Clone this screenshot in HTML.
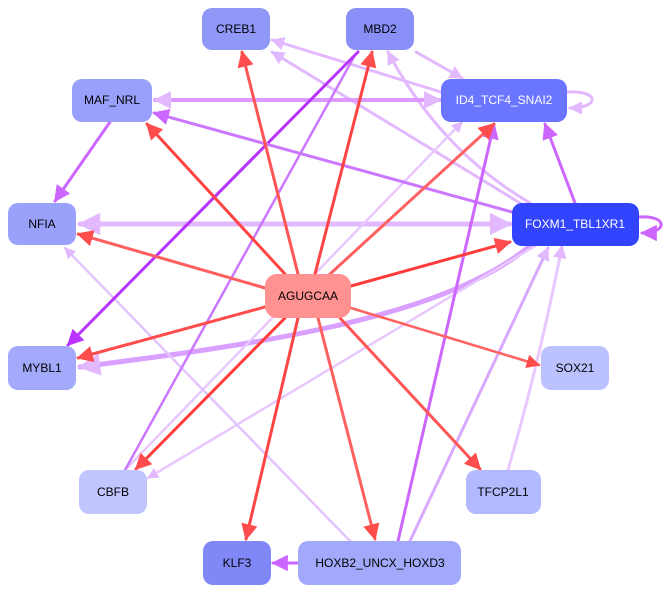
<!DOCTYPE html>
<html><head><meta charset="utf-8"><style>
body{margin:0;background:#fff;width:670px;height:593px;overflow:hidden}
text{font-family:"Liberation Sans",sans-serif;font-size:12px;text-anchor:middle;dominant-baseline:central}
</style></head><body>
<svg width="670" height="593" viewBox="0 0 670 593" xmlns="http://www.w3.org/2000/svg">
<defs>
<marker id="r" viewBox="0 0 10 10" refX="9" refY="5" markerWidth="5.5" markerHeight="5.5" orient="auto-start-reverse"><path d="M0,0L10,5L0,10z" fill="#ff4c4c"/></marker>
<marker id="p" viewBox="0 0 10 10" refX="9" refY="5" markerWidth="5.5" markerHeight="5.5" orient="auto-start-reverse"><path d="M0,0L10,5L0,10z" fill="#cc66ff"/></marker>
<marker id="d" viewBox="0 0 10 10" refX="9" refY="5" markerWidth="5.5" markerHeight="5.5" orient="auto-start-reverse"><path d="M0,0L10,5L0,10z" fill="#b833ff"/></marker>
<marker id="l" viewBox="0 0 10 10" refX="9" refY="5" markerWidth="4.5" markerHeight="4.5" orient="auto-start-reverse"><path d="M0,0L10,5L0,10z" fill="#e2b8ff"/></marker>
</defs>
<g fill="none" stroke-linecap="round">
<path d="M441,92 L272,40" stroke="#e2b8ff" stroke-width="3" marker-end="url(#l)"/>
<path d="M416,52 L462,78" stroke="#e2b8ff" stroke-width="3" marker-end="url(#l)"/>
<path d="M520,203 L272,52" stroke="#e2b8ff" stroke-width="3" marker-end="url(#l)"/>
<path d="M530,203 Q440,150 388,52" stroke="#e2b8ff" stroke-width="3" marker-end="url(#l)"/>
<path d="M80,224 L510,224" stroke="#e2b8ff" stroke-width="5" marker-end="url(#l)" marker-start="url(#l)"/>
<path d="M155,100 L440,100" stroke="#dd99ff" stroke-width="4" marker-end="url(#l)" marker-start="url(#l)"/>
<path d="M530,246 C440,320 250,345 80,367" stroke="#d9a0ff" stroke-width="5" marker-end="url(#l)"/>
<path d="M125,470 L462,122" stroke="#e8c8ff" stroke-width="2.5" marker-end="url(#l)"/>
<path d="M535,246 L148,478" stroke="#e8c8ff" stroke-width="2.5" marker-end="url(#l)"/>
<path d="M508,470 Q540,360 562,246" stroke="#e8c8ff" stroke-width="3" marker-end="url(#l)"/>
<path d="M350,541 L65,248" stroke="#e2c4ff" stroke-width="2.5" marker-end="url(#l)"/>
<path d="M410,541 L548,248" stroke="#d9a8ff" stroke-width="3" marker-end="url(#l)"/>
<path d="M355,55 L125,470" stroke="#cc77ff" stroke-width="2.5"/>
<path d="M567,92 C600,90 600,108 570,108" stroke="#e2b8ff" stroke-width="3" marker-end="url(#l)"/>
<path d="M358,52 L68,345" stroke="#b833ff" stroke-width="3" marker-end="url(#d)"/>
<path d="M575,203 L545,124" stroke="#cc66ff" stroke-width="3" marker-end="url(#p)"/>
<path d="M512,212 L154,113" stroke="#cc77ff" stroke-width="3" marker-end="url(#p)"/>
<path d="M110,122 L55,201" stroke="#cc66ff" stroke-width="3" marker-end="url(#p)"/>
<path d="M398,541 L494,124" stroke="#cc66ff" stroke-width="3" marker-end="url(#p)"/>
<path d="M298,563 L273,563" stroke="#cc66ff" stroke-width="3" marker-end="url(#p)"/>
<path d="M639,217 C668,215 668,233 642,233" stroke="#cc66ff" stroke-width="3" marker-end="url(#p)"/>
<g stroke-width="3">
<path d="M298,274 L242,52" stroke="#ff5555" marker-end="url(#r)"/>
<path d="M315,274 L372,52" stroke="#ff4444" marker-end="url(#r)"/>
<path d="M285,274 L147,124" stroke="#ff4444" marker-end="url(#r)"/>
<path d="M330,274 L494,124" stroke="#ff6060" marker-end="url(#r)"/>
<path d="M351,286 L510,242" stroke="#ff3b3b" marker-end="url(#r)"/>
<path d="M265,288 L78,234" stroke="#ff5f5f" marker-end="url(#r)"/>
<path d="M265,307 L78,358" stroke="#ff4c4c" marker-end="url(#r)"/>
<path d="M351,308 L539,365" stroke="#ff6060" stroke-width="2.5" marker-end="url(#r)"/>
<path d="M285,318 L136,469" stroke="#ff3b3b" marker-end="url(#r)"/>
<path d="M340,318 L480,469" stroke="#ff5555" marker-end="url(#r)"/>
<path d="M298,318 L246,539" stroke="#ff4444" marker-end="url(#r)"/>
<path d="M318,318 L375,539" stroke="#ff6060" marker-end="url(#r)"/>
</g>
</g>
<g>
<rect x="202" y="8" width="68" height="42" rx="10" fill="#8f97f7"/><text x="236" y="29">CREB1</text>
<rect x="346" y="8" width="68" height="42" rx="10" fill="#8890f7"/><text x="380" y="29">MBD2</text>
<rect x="72" y="79" width="80" height="43" rx="10" fill="#98a0fb"/><text x="112" y="100">MAF_NRL</text>
<rect x="441" y="79" width="126" height="43" rx="10" fill="#6a76ff"/><text x="504" y="100" fill="#fff">ID4_TCF4_SNAI2</text>
<rect x="8" y="203" width="68" height="42" rx="10" fill="#99a1fb"/><text x="42" y="224">NFIA</text>
<rect x="512" y="203" width="127" height="43" rx="10" fill="#3344ff"/><text x="575" y="224" fill="#fff">FOXM1_TBL1XR1</text>
<rect x="265" y="274" width="86" height="44" rx="12" fill="#ff9191"/><text x="308" y="296">AGUGCAA</text>
<rect x="8" y="346" width="68" height="44" rx="10" fill="#a3aafb"/><text x="42" y="368">MYBL1</text>
<rect x="541" y="346" width="68" height="44" rx="10" fill="#bcc1ff"/><text x="575" y="368">SOX21</text>
<rect x="79" y="470" width="68" height="44" rx="10" fill="#c1c5ff"/><text x="113" y="492">CBFB</text>
<rect x="466" y="470" width="75" height="44" rx="10" fill="#b3b9ff"/><text x="503" y="492">TFCP2L1</text>
<rect x="203" y="541" width="68" height="44" rx="10" fill="#8088f8"/><text x="237" y="563">KLF3</text>
<rect x="298" y="541" width="163" height="44" rx="10" fill="#a2a9fb"/><text x="380" y="563">HOXB2_UNCX_HOXD3</text>
</g>
</svg>
</body></html>
